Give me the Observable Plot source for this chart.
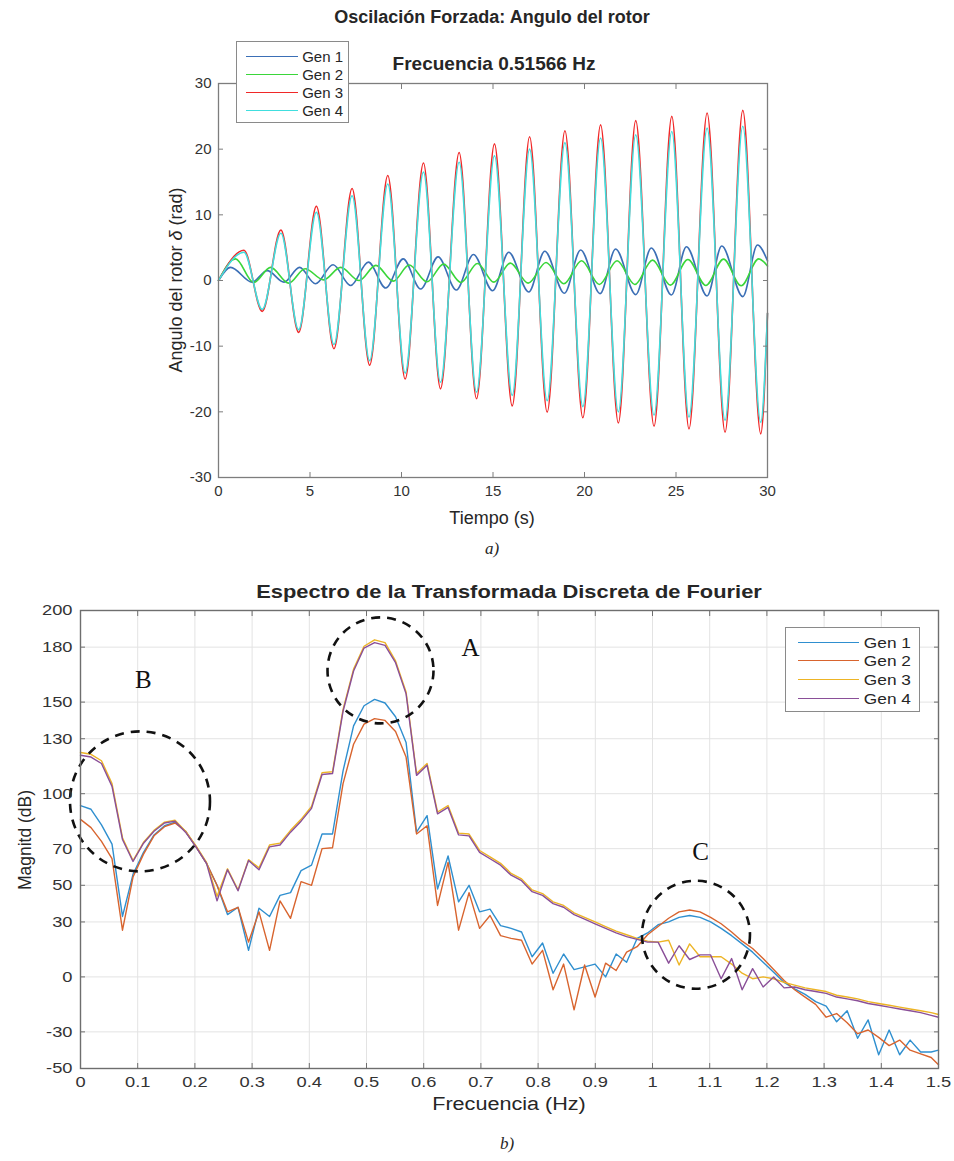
<!DOCTYPE html>
<html><head><meta charset="utf-8">
<script src="https://cdn.jsdelivr.net/npm/d3@7"></script>
<script src="https://cdn.jsdelivr.net/npm/@observablehq/plot@0.6"></script>
<style>
body{margin:0;background:#fff;}
#wrap{position:relative;width:954px;height:1161px;overflow:hidden;font-family:"Liberation Sans",Arial,sans-serif;color:#262626;}
.lbl{position:absolute;white-space:nowrap;transform:translate(-50%,-50%);line-height:1;}
.cap{position:absolute;white-space:nowrap;transform:translate(-50%,-50%);font-family:"Liberation Serif","DejaVu Serif",serif;font-style:italic;font-size:17px;line-height:1;}
.leg{position:absolute;background:#fff;border:1px solid #8a8a8a;}
.sw{position:absolute;height:0;border-top:1.7px solid;}
.tx{position:absolute;line-height:1;transform:translateY(-50%);white-space:nowrap;color:#262626;}
#p1,#p2{position:absolute;left:0;}
</style></head><body><div id="wrap">
<div id="p1" style="top:0"></div>
<div id="p2" style="top:560px"></div>
</div>
<script>
// ---------- (a) Oscilación forzada: extrema ----------
const genNames = ["Gen 1", "Gen 2", "Gen 3", "Gen 4"];
const timeTicks = [0, 5, 10, 15, 20, 25, 30];
const angleTicks = [-30, -20, -10, 0, 10, 20, 30];

const tGen1 = [0, 0.66, 1.84, 2.66, 3.58, 4.43, 5.3, 6.26, 7.22, 8.19, 9.14, 10.09, 11.05, 12.0, 13.0, 13.93, 14.98, 15.86, 16.95, 17.83, 18.9, 19.79, 20.85, 21.7, 22.8, 23.65, 24.75, 25.57, 26.7, 27.5, 28.65, 29.45, 30];
const angGen1 = [0, 2.0, -0.25, 1.5, -0.25, 2.0, -0.5, 2.4, -0.75, 2.8, -1.15, 3.3, -1.3, 3.6, -1.45, 3.95, -1.55, 4.3, -1.75, 4.45, -1.95, 4.65, -2.0, 4.8, -2.15, 4.95, -2.2, 5.15, -2.35, 5.25, -2.45, 5.4, 3.0];

const tGen2 = [0, 0.93, 1.92, 2.85, 3.83, 4.73, 5.74, 6.68, 7.68, 8.6, 9.55, 10.42, 11.4, 12.3, 13.25, 14.15, 15.05, 15.95, 16.92, 17.9, 18.87, 19.84, 20.81, 21.78, 22.75, 23.72, 24.69, 25.65, 26.63, 27.6, 28.56, 29.52, 30];
const angGen2 = [0, 3.3, -0.3, 2.0, -0.4, 1.8, 0.1, 2.0, 0.0, 2.3, -0.1, 2.35, -0.2, 2.5, -0.3, 2.6, -0.25, 2.65, -0.4, 2.75, -0.5, 3.0, -0.6, 3.0, -0.6, 3.1, -0.7, 3.2, -0.75, 3.25, -0.8, 3.3, 2.2];

const tGen34 = [0, 1.39, 2.39, 3.41, 4.38, 5.35, 6.31, 7.30, 8.26, 9.25, 10.2, 11.2, 12.13, 13.15, 14.1, 15.08, 16.05, 17.0, 17.96, 18.93, 19.91, 20.88, 21.85, 22.8, 23.8, 24.77, 25.71, 26.7, 27.68, 28.65, 29.63, 30];
const angGen3 = [0, 4.6, -4.7, 7.7, -7.9, 11.3, -10.4, 14.0, -12.9, 16.0, -15.0, 17.9, -16.5, 19.5, -18.0, 20.8, -19.1, 21.9, -20.05, 22.8, -20.9, 23.7, -21.7, 24.35, -22.2, 25.0, -22.6, 25.5, -23.1, 25.9, -23.35, -5];
const angGen4 = [0, 4.3, -4.4, 7.2, -7.5, 10.4, -9.75, 12.9, -12.2, 14.7, -14.1, 16.5, -15.5, 18.0, -17.0, 19.0, -17.5, 20.0, -18.3, 21.0, -19.2, 21.7, -20.0, 22.2, -20.5, 22.7, -20.8, 23.2, -21.3, 23.5, -21.6, -5];

// ---------- (b) Espectro DFT ----------
const freqTicks = [0, 0.1, 0.2, 0.3, 0.4, 0.5, 0.6, 0.7, 0.8, 0.9, 1, 1.1, 1.2, 1.3, 1.4, 1.5];
const magTicks = [-50, -30, 0, 30, 50, 70, 100, 130, 150, 180, 200];
const freq = [0, 0.0184, 0.0367, 0.0551, 0.0734, 0.0918, 0.1102, 0.1285, 0.1469, 0.1652, 0.1836, 0.2020, 0.2203, 0.2387, 0.2570, 0.2754, 0.2938, 0.3121, 0.3305, 0.3488, 0.3672, 0.3856, 0.4039, 0.4223, 0.4406, 0.4590, 0.4774, 0.4957, 0.5141, 0.5324, 0.5508, 0.5692, 0.5875, 0.6059, 0.6242, 0.6426, 0.6610, 0.6793, 0.6977, 0.7160, 0.7344, 0.7528, 0.7711, 0.7895, 0.8078, 0.8262, 0.8446, 0.8629, 0.8813, 0.8996, 0.9180, 0.9364, 0.9547, 0.9731, 0.9914, 1.0098, 1.0282, 1.0465, 1.0649, 1.0832, 1.1016, 1.1200, 1.1383, 1.1567, 1.1750, 1.1934, 1.2118, 1.2301, 1.2485, 1.2668, 1.2852, 1.3036, 1.3219, 1.3403, 1.3586, 1.3770, 1.3954, 1.4137, 1.4321, 1.4504, 1.4688, 1.4872, 1.5];
const magGen1 = [93.5, 91.5, 83, 72.5, 33, 56, 68, 77.5, 82.5, 84.5, 79.5, 71, 62, 50, 34, 38, 14.5, 37.5, 33, 44.5, 46, 58, 61, 78, 78, 112.5, 137, 148, 151.5, 149.5, 142, 128, 79, 88, 48, 66, 41, 50, 35.5, 37, 28, 26.5, 24.5, 11, 18.5, 2, 12.5, 4, 5.5, 7, 0, 12.5, 8, 21, 24, 28.5, 30, 32.5, 33.5, 32.5, 30, 26.5, 22.5, 18, 13.5, 8, 2.5, -3, -6.5, -9.5, -13.5, -16, -24.5, -18.5, -33.5, -23.5, -42.5, -29, -42.5, -34.5, -41, -41, -40];
const magGen2 = [86, 81.5, 74, 64.5, 25.5, 54.5, 67, 77, 82, 84, 79.5, 71, 62, 50, 35.5, 38, 19, 35.5, 14.5, 41.5, 32, 52, 50, 70, 70.5, 105.5, 127, 138, 141, 140, 134, 120, 78, 82.5, 39, 62.5, 25.5, 46, 26.5, 33.5, 22.5, 21, 20, 7, 14.5, -7, 7, -18, 6.5, -11, 7.5, 3.5, 13.5, 16.5, 23, 27.5, 32, 35.5, 36.5, 35.5, 32.5, 29, 24.5, 19.5, 15.5, 10, 4, -2, -7, -11, -15, -22, -20, -25, -31, -29, -33, -37.5, -34.5, -40, -42, -44, -48];
const magGen3 = [122.5, 121.5, 118, 105.5, 76, 63.5, 73.5, 80, 84.5, 85.5, 79.5, 71.5, 62.5, 44, 59, 47.5, 64, 59.5, 72, 73, 80, 86, 93, 111.5, 112, 146, 168, 180.5, 184, 182.5, 172.5, 155.5, 111, 116.5, 90, 93.5, 78.5, 78, 69, 65.5, 62, 56.5, 53.5, 47.5, 45.5, 41, 39, 35, 32.5, 30, 27.5, 25, 23, 21, 19.5, 19, 20, 6.5, 18, 11, 11, 11, 7, 2, -1, 0, -1, -3, -4.5, -6, -7, -8, -10, -11, -12, -13.5, -14.5, -15.5, -16.5, -17.5, -18.5, -19.5, -20.5];
const magGen4 = [121, 120, 116.5, 104, 75, 63, 73, 79.5, 84, 85, 79, 71, 62, 41.5, 58.5, 47, 63.5, 58.5, 71, 72, 79, 85, 92, 110.5, 111, 145, 167, 179.5, 182.5, 181, 171.5, 154.5, 110, 115.5, 89, 92.5, 77.5, 77, 68, 64.5, 61, 55.5, 52.5, 46.5, 44.5, 40, 38, 34, 31.5, 29, 26.5, 24, 22, 20.5, 19, 19, 7.5, 17, 9.5, 12, 12, -1, 10, -7, 4.5, -5.5, 0, -6, -5.5, -7, -8, -9, -11, -12, -13, -14.5, -15.5, -16.5, -17.5, -18.5, -19.5, -21, -22];

const annoText = ["A", "B", "C"];
const annoTextFreq = [0.682, 0.110, 1.084];
const annoTextMag = [179.5, 162, 68];
const circleFreq = [0.5245, 0.104, 1.076];
const circleMag = [167.3, 95.8, 23];

// ---------- styles ----------
const colorsA = ["#3b6fb6", "#3ad63a", "#f02828", "#40dede"];
const colorsB = ["#2f8fcf", "#d8642e", "#edb425", "#8a4f98"];
const circleR = [53, 70, 54];
const font = "Liberation Sans, Arial, sans-serif";
const fmt = d => String(d);

function rowsOf(xs, ys, name) { return xs.map((x, i) => ({x, y: ys[i], name})); }

// ---------- Plot (a) ----------
const seriesA = [
  rowsOf(tGen1, angGen1, genNames[0]),
  rowsOf(tGen2, angGen2, genNames[1]),
  rowsOf(tGen34, angGen3, genNames[2]),
  rowsOf(tGen34, angGen4, genNames[3])
];
const axisColA = "#7d7d7d";
const plotA = Plot.plot({
  width: 954, height: 530,
  marginLeft: 218, marginRight: 187, marginTop: 83, marginBottom: 53,
  x: {domain: [0, 30]},
  y: {domain: [-30, 30]},
  style: {fontFamily: font, fontSize: "15px", color: "#333", background: "transparent", overflow: "visible"},
  marks: [
    ...seriesA.map((rows, k) => Plot.line(rows, {x: "x", y: "y", stroke: colorsA[k], strokeWidth: 1.6, curve: "monotone-x"})),
    Plot.frame({stroke: axisColA, strokeWidth: 1.3}),
    Plot.axisX(timeTicks, {anchor: "bottom", tickSize: -5, tickPadding: 13, tickFormat: fmt, label: null, stroke: axisColA}),
    Plot.axisX(timeTicks, {anchor: "top", tickSize: -5, tickFormat: () => "", label: null, stroke: axisColA}),
    Plot.axisY(angleTicks, {anchor: "left", tickSize: -5, tickPadding: 12, tickFormat: fmt, label: null, stroke: axisColA}),
    Plot.axisY(angleTicks, {anchor: "right", tickSize: -5, tickFormat: () => "", label: null, stroke: axisColA})
  ]
});
document.getElementById("p1").appendChild(plotA);

// ---------- Plot (b) ----------
const magsB = [magGen1, magGen2, magGen3, magGen4];
const seriesB = magsB.map((m, k) => rowsOf(freq, m, genNames[k]));
const circles = annoText.map((t, i) => ({t, f: circleFreq[i], m: circleMag[i]}));
const axisColB = "#6e6e6e";
const plotB = Plot.plot({
  width: 954, height: 560,
  marginLeft: 80, marginRight: 16, marginTop: 50, marginBottom: 52,
  x: {domain: [0, 1.5]},
  y: {domain: [-50, 200]},
  style: {fontFamily: font, fontSize: "15.5px", color: "#333", background: "transparent", overflow: "visible"},
  marks: [
    Plot.gridX(freqTicks, {stroke: "#e3e3e3", strokeOpacity: 1}),
    Plot.gridY(magTicks, {stroke: "#e3e3e3", strokeOpacity: 1}),
    ...seriesB.map((rows, k) => Plot.line(rows, {x: "x", y: "y", stroke: colorsB[k], strokeWidth: 1.4})),
    ...circles.map((c, i) => Plot.dot([c], {x: "f", y: "m", r: circleR[i], stroke: "#111", strokeWidth: 2.6, strokeDasharray: "9,7", fill: "none"})),
    Plot.text(annoText.map((t, i) => ({t, f: annoTextFreq[i], m: annoTextMag[i]})), {x: "f", y: "m", text: "t", fontFamily: "Liberation Serif, DejaVu Serif, serif", fontSize: 25, fill: "#111"}),
    Plot.frame({stroke: axisColB, strokeWidth: 1.4}),
    Plot.axisX(freqTicks, {anchor: "bottom", tickSize: -5, tickPadding: 12, tickFormat: fmt, label: null, stroke: axisColB}),
    Plot.axisX(freqTicks, {anchor: "top", tickSize: -5, tickFormat: () => "", label: null, stroke: axisColB}),
    Plot.axisY(magTicks, {anchor: "left", tickSize: -5, tickPadding: 13, tickFormat: fmt, label: null, stroke: axisColB}),
    Plot.axisY(magTicks, {anchor: "right", tickSize: -5, tickFormat: () => "", label: null, stroke: axisColB})
  ]
});
document.getElementById("p2").appendChild(plotB);
// widen tick labels of (b) like the horizontally stretched original
plotB.querySelectorAll('g[aria-label$="tick label"] text').forEach(t => {
  t.setAttribute("transform", (t.getAttribute("transform") || "") + " scale(1.18,1)");
});

// ---------- HTML titles, labels, legends ----------
const wrap = document.getElementById("wrap");
function addLabel(text, x, y, css) {
  const d = document.createElement("div");
  d.className = "lbl";
  d.innerHTML = text;
  d.style.left = x + "px"; d.style.top = y + "px";
  Object.assign(d.style, css || {});
  wrap.appendChild(d);
  return d;
}
addLabel("Oscilación Forzada: Angulo del rotor", 492, 17, {fontWeight: "bold", fontSize: "18px"});
addLabel("Frecuencia 0.51566 Hz", 494, 63, {fontWeight: "bold", fontSize: "19px"});
addLabel("Angulo del rotor <i>δ</i> (rad)", 176, 280, {fontSize: "18px", transform: "translate(-50%,-50%) rotate(-90deg)"});
addLabel("Tiempo (s)", 492, 518, {fontSize: "18px"});
addLabel("Espectro de la Transformada Discreta de Fourier", 509, 593, {fontWeight: "bold", fontSize: "17.5px", transform: "translate(-50%,-50%) scaleX(1.25)"});
addLabel("Magnitd (dB)", 26, 840, {fontSize: "17.5px", transform: "translate(-50%,-50%) rotate(-90deg)"});
addLabel("Frecuencia (Hz)", 509, 1104, {fontSize: "18px", transform: "translate(-50%,-50%) scaleX(1.2)"});
const ca = document.createElement("div"); ca.className = "cap"; ca.textContent = "a)"; ca.style.left = "492px"; ca.style.top = "548px"; wrap.appendChild(ca);
const cb = document.createElement("div"); cb.className = "cap"; cb.textContent = "b)"; cb.style.left = "507px"; cb.style.top = "1143px"; wrap.appendChild(cb);

function legend(colors, box, rowsY, lineX, lineW, textRight, fs, stretch) {
  const L = document.createElement("div");
  L.className = "leg";
  Object.assign(L.style, {left: box[0] + "px", top: box[1] + "px", width: box[2] + "px", height: box[3] + "px"});
  genNames.forEach((n, i) => {
    const sw = document.createElement("div");
    sw.className = "sw";
    Object.assign(sw.style, {left: lineX + "px", width: lineW + "px", top: rowsY[i] + "px", borderTopColor: colors[i]});
    L.appendChild(sw);
    const tx = document.createElement("div");
    tx.className = "tx";
    tx.textContent = n;
    Object.assign(tx.style, {right: textRight + "px", top: rowsY[i] + "px", fontSize: fs + "px",
      transform: `translateY(-50%) scaleX(${stretch})`, transformOrigin: "right center"});
    L.appendChild(tx);
  });
  wrap.appendChild(L);
}
legend(colorsA, [236, 41, 111, 80], [14, 32, 50, 68], 9, 52, 5, 15, 1);
legend(colorsB, [785, 627, 133, 83], [13.5, 32, 51, 70], 12, 61, 8, 15, 1.15);
</script></body></html>
